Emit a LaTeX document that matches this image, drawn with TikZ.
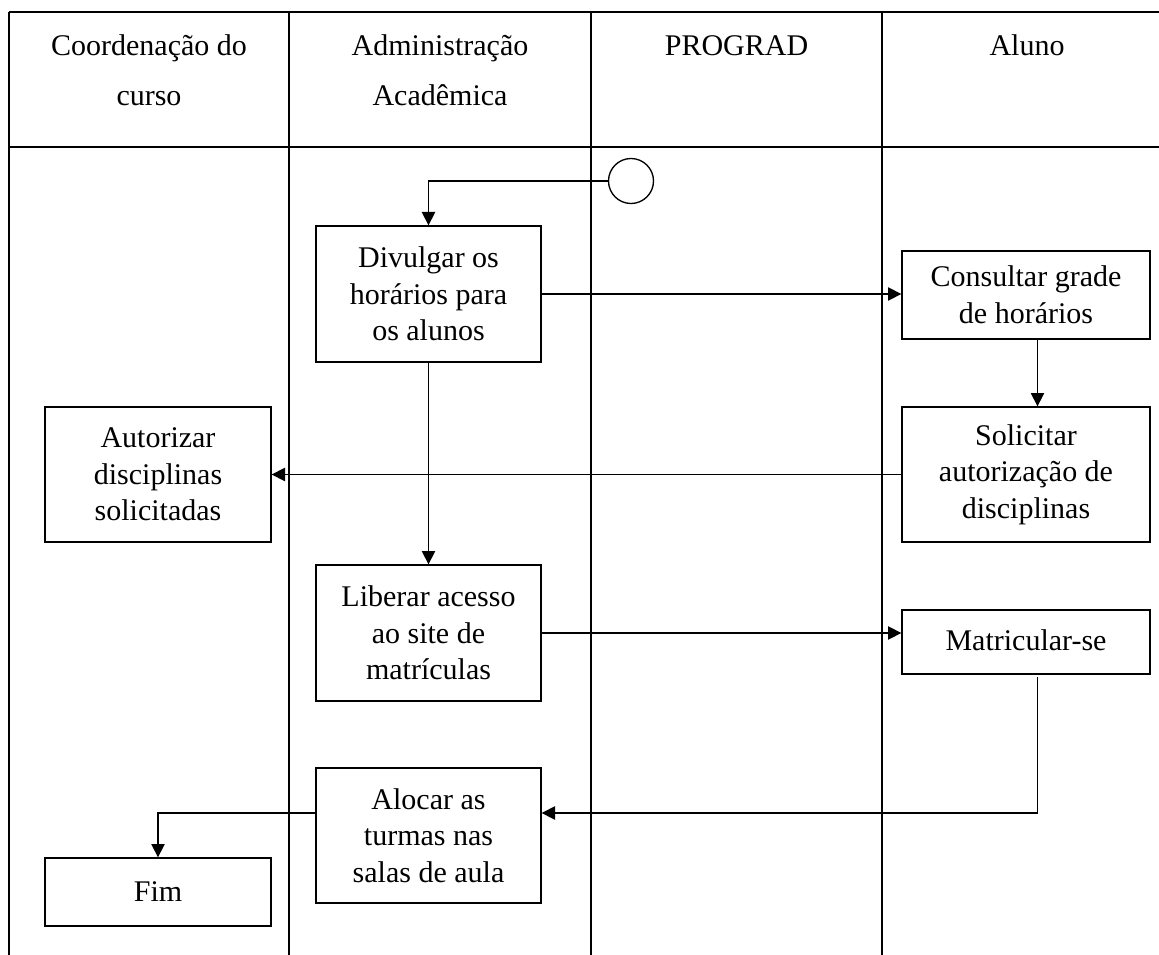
\documentclass[tikz,border=0pt]{standalone}
\usepackage{fontspec}
\setmainfont{Liberation Serif}
\usetikzlibrary{arrows.meta}
\begin{document}
\begin{tikzpicture}[x=0.75pt,y=-0.75pt,
  lane/.style={line width=1.4pt},
  hline/.style={line width=0.8pt},
  proc/.style={draw, line width=1pt, align=center, inner sep=0pt, font=\fontsize{22.5}{27.5}\selectfont},
  hdr/.style={anchor=base, font=\fontsize{22.5}{27}\selectfont, inner sep=0pt},
  flow/.style={line width=1.1pt, -{Triangle[length=10pt,width=10pt]}},
  plain/.style={line width=1.1pt}]
\useasboundingbox (0,0) rectangle (1159,955);
% swimlane table
\coordinate (tl) at (9,12);
\coordinate (tr) at (1159,12);
\coordinate (hl) at (9,147);
\coordinate (hr) at (1159,147);
\coordinate (b0) at (9,955);
\coordinate (c1t) at (289,12);
\coordinate (c1b) at (289,955);
\coordinate (c2t) at (591,12);
\coordinate (c2b) at (591,955);
\coordinate (c3t) at (882,12);
\coordinate (c3b) at (882,955);
\draw[lane] (tl) -- (tr);
\draw[hline] (hl) -- (hr);
\draw[lane] (tl) -- (b0);
\draw[lane] (c1t) -- (c1b);
\draw[lane] (c2t) -- (c2b);
\draw[lane] (c3t) -- (c3b);
% headers
\node[hdr] (h1a) at (149,56) {Coordenação do};
\node[hdr] (h1b) at (149,106) {curso};
\node[hdr] (h2a) at (440,56) {Administração};
\node[hdr] (h2b) at (440,106) {Acadêmica};
\node[hdr] (h3) at (736.5,56) {PROGRAD};
\node[hdr] (h4) at (1027,56) {Aluno};
% start
\node[draw, circle, line width=1pt, minimum size=33.75pt, inner sep=0pt] (start) at (631,181) {};
% process boxes
\node[proc, minimum width=168.75pt, minimum height=102pt] (div) at (428.5,294) {Divulgar os\\horários para\\os alunos};
\node[proc, minimum width=186pt, minimum height=66pt] (cons) at (1026,295) {Consultar grade\\de horários};
\node[proc, minimum width=186pt, minimum height=101.25pt] (sol) at (1026,474.5) {Solicitar\\autorização de\\disciplinas};
\node[proc, minimum width=169.5pt, minimum height=101.25pt] (aut) at (158,474.5) {Autorizar\\disciplinas\\solicitadas};
\node[proc, minimum width=168.75pt, minimum height=102pt] (lib) at (428.5,633) {Liberar acesso\\ao site de\\matrículas};
\node[proc, minimum width=186pt, minimum height=48pt, text depth=3pt] (mat) at (1026,642) {Matricular-se};
\node[proc, minimum width=168.75pt, minimum height=101.25pt] (alo) at (428.5,835.5) {Alocar as\\turmas nas\\salas de aula};
\node[proc, minimum width=169.5pt, minimum height=51pt] (fim) at (158,892) {Fim};
% helper coordinates
\coordinate (cx) at (1037.5,0);
\coordinate (m1) at (1037.5,677);
\coordinate (m2) at (1037.5,813);
% connectors
\draw[flow] (start.west) -| (div.north);
\draw[flow] (div.east) -- (div.east -| cons.west);
\draw[flow] (cons.south -| cx) -- (sol.north -| cx);
\draw[flow] (sol.west) -- (aut.east);
\draw[flow] (div.south) -- (lib.north);
\draw[flow] (lib.east) -- (lib.east -| mat.west);
\draw[flow] (m1) -- (m2) -- (m2 -| alo.east);
\draw[flow] (m2 -| alo.west) -| (fim.north);
\end{tikzpicture}
\end{document}
